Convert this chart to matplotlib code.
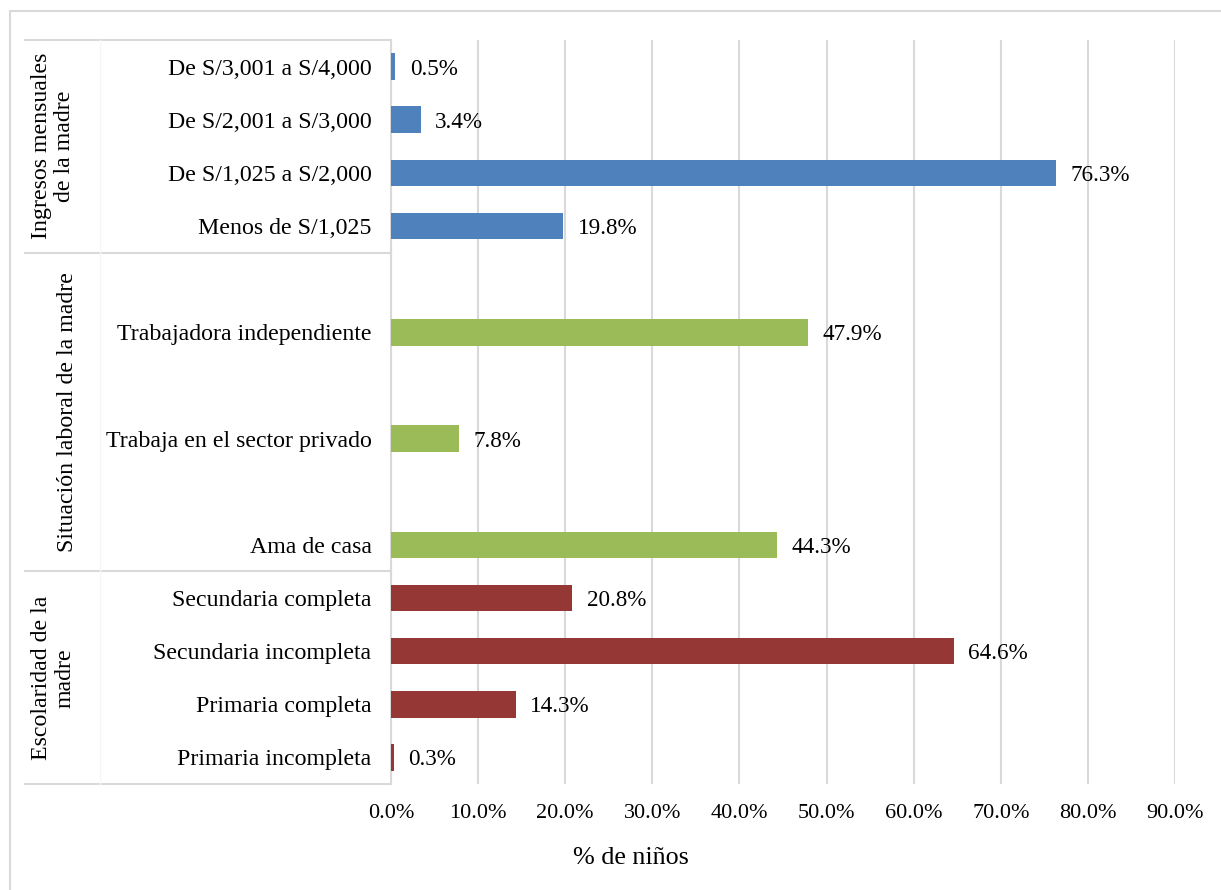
#!/usr/bin/env python3
# -*- coding: utf-8 -*-

import matplotlib
matplotlib.use("Agg")
import matplotlib.pyplot as plt
import matplotlib.transforms as mtransforms
from matplotlib.patches import Rectangle
import numpy as np

plt.rcParams['font.family'] = ['Liberation Serif', 'DejaVu Serif']

# DATA ----------------------------------------------------------------------------------------------------------------

escolaridad_labels = ["Primaria incompleta", "Primaria completa", "Secundaria incompleta", "Secundaria completa"]
escolaridad_values = [0.3, 14.3, 64.6, 20.8]

situacion_labels = ["Ama de casa", "Trabaja en el sector privado", "Trabajadora independiente"]
situacion_values = [44.3, 7.8, 47.9]

ingresos_labels = ["Menos de S/1,025", "De S/1,025 a S/2,000", "De S/2,001 a S/3,000", "De S/3,001 a S/4,000"]
ingresos_values = [19.8, 76.3, 3.4, 0.5]

group_titles = ["Escolaridad de la\nmadre", "Situación laboral de la madre", "Ingresos mensuales\nde la madre"]

x_ticks = [0, 10, 20, 30, 40, 50, 60, 70, 80, 90]

BLUE, GREEN, RED = "#4F81BD", "#9BBB59", "#953735"
GRID = "#D9D9D9"

# LAYOUT --------------------------------------------------------------------------------------------------------------

W, H = 1221, 890
fig = plt.figure(figsize=(W / 100, H / 100), dpi=100)

def fx(px):
    return px / W

def fy(py):
    return 1 - py / H

# outer chart frame (runs past the right and bottom edges)
fig.patches.append(Rectangle((fx(10), fy(11) - 2), 2, 2, transform=fig.transFigure,
                             fill=False, edgecolor=GRID, linewidth=1.5))

ax = fig.add_axes([fx(391), fy(784), fx(1175) - fx(391), fy(40) - fy(784)])

# row positions: escolaridad 0-3, situacion on every other row 4-9, ingresos 10-13
esc_pos = np.arange(len(escolaridad_labels))
sit_pos = 4 + 2 * np.arange(len(situacion_labels))
ing_pos = 10 + np.arange(len(ingresos_labels))
n_rows = 14

bar_h = 0.5
for pos, vals, color in [(esc_pos, escolaridad_values, RED),
                         (sit_pos, situacion_values, GREEN),
                         (ing_pos, ingresos_values, BLUE)]:
    bars = ax.barh(pos, vals, height=bar_h, color=color, zorder=3)
    for b, v in zip(bars, vals):
        ax.annotate(f"{v:.1f}%", (b.get_width(), b.get_y() + b.get_height() / 2),
                    xytext=(10.5, 0), textcoords="offset points", va="center_baseline", ha="left",
                    fontsize=16.7, color="black")

ax.set_ylim(-0.5, n_rows - 0.5)
ax.set_xlim(0, 90)
ax.set_xticks(x_ticks)
ax.set_xticklabels([f"{t:.1f}%" for t in x_ticks], fontsize=16)
ax.set_yticks(list(esc_pos) + list(sit_pos) + list(ing_pos))
ax.set_yticklabels(escolaridad_labels + situacion_labels + ingresos_labels, fontsize=17.2)
ax.tick_params(axis='y', length=0, pad=14)
ax.tick_params(axis='x', length=0, pad=14.5)

ax.grid(axis='x', color=GRID, linewidth=1.5, zorder=0)
for side in ['top', 'right', 'bottom']:
    ax.spines[side].set_visible(False)
ax.spines['left'].set_color(GRID)
ax.spines['left'].set_linewidth(1.5)

# group separators for the two-level category axis
trans = mtransforms.blended_transform_factory(fig.transFigure, ax.transData)
for yb in [-0.5, 3.5, 9.5, n_rows - 0.5]:
    ax.plot([fx(25), fx(391)], [yb, yb], transform=trans, color=GRID, linewidth=1.5, clip_on=False)
ax.plot([fx(100), fx(100)], [-0.5, n_rows - 0.5], transform=trans, color="#F6F6F6", linewidth=1.0, clip_on=False)

for title, (lo, hi), xpx in zip(group_titles, [(-0.5, 3.5), (3.5, 9.5), (9.5, 13.5)], [53, 68, 53]):
    ax.text(fx(xpx), (lo + hi) / 2, title, transform=trans, rotation=90, ha="center", va="center",
            multialignment="center", fontsize=17.2, linespacing=1.15)

fig.text(fx(631), fy(858), "% de niños", ha="center", va="center", fontsize=18.8)

fig.savefig("out.png", dpi=100, facecolor="white")
